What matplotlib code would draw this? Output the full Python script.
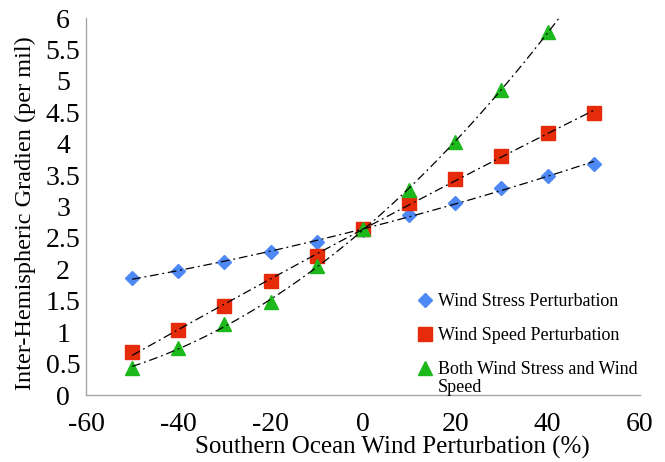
import matplotlib.pyplot as plt
import numpy as np

plt.rcParams['font.family'] = ['Liberation Serif', 'DejaVu Serif']
plt.rcParams['axes.unicode_minus'] = False

# perturbation (%)
pert = [-50, -40, -30, -20, -10, 0, 10, 20, 30, 40, 50]
stress = [1.87, 1.98, 2.11, 2.27, 2.44, 2.63, 2.86, 3.06, 3.29, 3.49, 3.68]
speed = [0.68, 1.03, 1.41, 1.81, 2.22, 2.65, 3.06, 3.44, 3.81, 4.17, 4.49]
both_x = [-50, -40, -30, -20, -10, 0, 10, 20, 30, 40]
both = [0.43, 0.75, 1.13, 1.48, 2.05, 2.65, 3.27, 4.02, 4.86, 5.78]

fig = plt.figure(figsize=(6.65, 4.62), dpi=100)
ax = fig.add_axes([0.1293, 0.145, 0.8331, 0.816])

dd = (0, (7, 3, 1.5, 3))
series = [
    (pert, stress, 'D', 7.5, '#4D88F5', 'Wind Stress Perturbation'),
    (pert, speed, 's', 9.5, '#E52B0A', 'Wind Speed Perturbation'),
    (both_x, both, '^', 10.5, '#1CB81C', 'Both Wind Stress and Wind'),
]
for xs, ys, mk, ms, col, lab in series:
    ax.plot(xs, ys, mk, ms=ms, color=col, mec=col, label=lab, zorder=2)
    # excel-style 2nd order polynomial trendline
    c = np.polyfit(xs, ys, 2)
    xx = np.linspace(-50, 50, 200)
    ax.plot(xx, np.polyval(c, xx), color='black', lw=0.9, linestyle=dd, zorder=3)

ax.set_xlim(-60, 60)
ax.set_ylim(0, 6)
ax.set_xticks([-60, -40, -20, 0, 20, 40, 60])
ax.set_yticks(np.arange(0, 6.01, 0.5))
ax.set_yticklabels(['0', '0.5', '1', '1.5', '2', '2.5', '3', '3.5', '4', '4.5', '5', '5.5', '6'])
ax.tick_params(axis='both', length=0, labelsize=20)
ax.tick_params(axis='y', pad=16.5)
ax.tick_params(axis='x', pad=12)
for t in ax.get_yticklabels():
    t.set_ha('center')

for s in ['top', 'right']:
    ax.spines[s].set_visible(False)
for s in ['left', 'bottom']:
    ax.spines[s].set_color('#A6A6A6')
    ax.spines[s].set_linewidth(1)

ax.set_xlabel('Southern Ocean Wind Perturbation (%)', fontsize=18)
ax.xaxis.set_label_coords(0.553, -0.14)
ax.xaxis.label.set_va('center')
ax.set_ylabel('Inter-Hemispheric Gradien (per mil)', fontsize=17.5)
ax.yaxis.set_label_coords(-0.11, 0.483)
ax.yaxis.label.set_va('center')

leg = ax.legend(loc='upper left', bbox_to_anchor=(0.58, 0.29), frameon=False,
                fontsize=13, handletextpad=0.1, labelspacing=0.95, handlelength=1.2,
                borderaxespad=0)

# second line of the last legend entry, under its first line
fig.canvas.draw()
bb = leg.get_texts()[2].get_window_extent()
fig.text(bb.x0 / fig.bbox.width, (bb.y0 - 1) / fig.bbox.height, 'Speed',
         fontsize=13, ha='left', va='top')

fig.savefig('out.png', dpi=100)
